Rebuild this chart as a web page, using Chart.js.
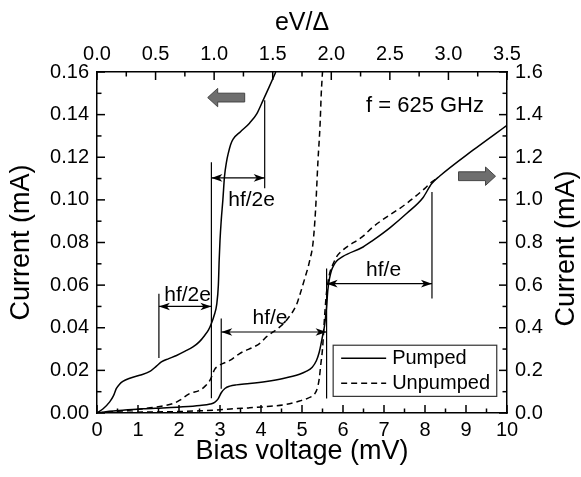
<!DOCTYPE html>
<html>
<head>
<meta charset="utf-8">
<script src="https://cdn.jsdelivr.net/npm/chart.js@4.4.1/dist/chart.umd.min.js"></script>
<style>
html, body { margin: 0; padding: 0; background: #fff; }
</style>
</head>
<body>
<canvas id="ivChart" width="581" height="477"></canvas>
<script>
// I-V curves, [bias mV, current mA]
const pumpedLeft = [
    [0, 0], [0.15, 0.002], [0.31, 0.0052], [0.4, 0.008], [0.47, 0.0114], [0.55, 0.0135],
    [0.63, 0.0148], [0.8, 0.0163], [1.04, 0.0177], [1.29, 0.0195], [1.45, 0.022], [1.57, 0.024],
    [1.75, 0.0255], [1.94, 0.027], [2.15, 0.029], [2.34, 0.031], [2.5, 0.0335], [2.63, 0.0365],
    [2.72, 0.039], [2.79, 0.042], [2.86, 0.046], [2.92, 0.051], [2.96, 0.06], [2.98, 0.0717],
    [3.0, 0.081], [3.03, 0.0904], [3.07, 0.1], [3.11, 0.111], [3.16, 0.118], [3.2, 0.1217],
    [3.26, 0.126], [3.32, 0.1285], [3.5, 0.132], [3.72, 0.136], [3.9, 0.1405], [4.05, 0.1467],
    [4.2, 0.153], [4.36, 0.16]
];
const unpumpedLeft = [
    [0, 0], [0.5, 0.0008], [1.13, 0.002], [1.45, 0.0028], [1.85, 0.0044], [2.02, 0.006],
    [2.26, 0.0091], [2.51, 0.0107], [2.63, 0.0125], [2.76, 0.0155], [2.87, 0.0205], [2.95, 0.022],
    [3.24, 0.0247], [3.48, 0.0279], [3.98, 0.0328], [4.13, 0.0357], [4.46, 0.0404], [4.62, 0.0435],
    [4.87, 0.051], [4.94, 0.055], [5.05, 0.062], [5.19, 0.0717], [5.27, 0.08], [5.33, 0.095],
    [5.39, 0.1185], [5.44, 0.135], [5.47, 0.15], [5.5, 0.16]
];
const pumpedRight = [
    [0, 0], [0.3, 0.008], [0.63, 0.013], [1.13, 0.02], [1.6, 0.024], [2.02, 0.028], [2.51, 0.035],
    [2.76, 0.042], [2.87, 0.05], [2.95, 0.065], [3.03, 0.095], [3.12, 0.115], [3.24, 0.126],
    [3.4, 0.132], [3.72, 0.138], [4.13, 0.148], [4.54, 0.162], [4.94, 0.182], [5.1, 0.195],
    [5.25, 0.215], [5.35, 0.245], [5.42, 0.285], [5.47, 0.33], [5.51, 0.37], [5.55, 0.41],
    [5.6, 0.5], [5.63, 0.576], [5.67, 0.63], [5.72, 0.67], [5.78, 0.695], [5.84, 0.712],
    [6.0, 0.735], [6.49, 0.779], [6.73, 0.81], [7.15, 0.87], [7.55, 0.936], [7.95, 1.01],
    [8.16, 1.076], [8.36, 1.112], [9.17, 1.233], [10, 1.35]
];
const unpumpedRight = [
    [0, 0], [0.63, 0.003], [1.45, 0.005], [2.02, 0.007], [2.5, 0.01], [3.0, 0.015], [3.32, 0.02],
    [3.7, 0.024], [4.13, 0.03], [4.6, 0.04], [4.94, 0.056], [5.15, 0.07], [5.31, 0.09], [5.38, 0.12],
    [5.42, 0.16], [5.46, 0.23], [5.5, 0.3], [5.55, 0.45], [5.59, 0.55], [5.63, 0.61], [5.68, 0.66],
    [5.76, 0.7], [5.84, 0.732], [6.0, 0.765], [6.49, 0.83], [6.73, 0.873], [7.55, 0.983],
    [7.99, 1.053], [8.16, 1.084], [8.25, 1.095]
];

// hf markers: vertical bars [x, yTop, yBottom, axis] and double arrows [x0, x1, y, axis]
const markerBars = [
    [2.79, 0.1177, 0.0069, 'y'], [4.09, 0.1467, 0.1054, 'y'], [1.51, 0.056, 0.0258, 'y'],
    [3.03, 0.0443, 0.0114, 'y'], [5.6, 0.0678, 0.0068, 'y'], [8.17, 1.037, 0.537, 'y2']
];
const markerArrows = [
    [2.79, 4.09, 0.1103, 'y'], [1.51, 2.79, 0.05, 'y'], [3.03, 5.6, 0.038, 'y'], [5.6, 8.17, 0.607, 'y2']
];
const markerLabels = [
    ['hf/2e', 3.77, 0.0998, 'y'], ['hf/2e', 2.21, 0.0555, 'y'], ['hf/e', 4.22, 0.0444, 'y'], ['hf/e', 6.99, 0.67, 'y2']
];

const xTicks = { min: 0, max: 10, step: 1, minor: 0.5 };
const topTicks = { min: 0, max: 3.5, step: 0.5, minor: 0.25 };
const leftTicks = { min: 0, max: 0.16, step: 0.02, minor: 0.01 };
const rightTicks = { min: 0, max: 1.6, step: 0.2, minor: 0.1 };

Chart.defaults.font.family = "'Liberation Sans', Arial, sans-serif";
Chart.defaults.color = '#000';

const toXY = arr => arr.map(p => ({ x: p[0], y: p[1] }));

function arrowHead(ctx, x, y, dir) {
    ctx.beginPath();
    ctx.moveTo(x, y);
    ctx.lineTo(x - dir * 11, y - 3.8);
    ctx.lineTo(x - dir * 8, y);
    ctx.lineTo(x - dir * 11, y + 3.8);
    ctx.closePath();
    ctx.fill();
}

function blockArrow(ctx, tx, ty, dir) {
    const L = 37, hl = 10, hh = 9.2, bh = 4.4;
    ctx.beginPath();
    ctx.moveTo(tx, ty);
    ctx.lineTo(tx - dir * hl, ty - hh);
    ctx.lineTo(tx - dir * hl, ty - bh);
    ctx.lineTo(tx - dir * L, ty - bh);
    ctx.lineTo(tx - dir * L, ty + bh);
    ctx.lineTo(tx - dir * hl, ty + bh);
    ctx.lineTo(tx - dir * hl, ty + hh);
    ctx.closePath();
    ctx.fillStyle = '#6e6e6e';
    ctx.fill();
    ctx.strokeStyle = '#444';
    ctx.lineWidth = 1;
    ctx.stroke();
}

const decorations = {
    id: 'decorations',
    afterDraw(chart) {
        const ctx = chart.ctx;
        const a = chart.chartArea;
        const s = chart.scales;
        ctx.save();

        // inward major / minor ticks
        ctx.strokeStyle = '#000';
        ctx.lineWidth = 1.5;
        const sets = [[s.x, xTicks, 'bottom'], [s.x2, topTicks, 'top'], [s.y, leftTicks, 'left'], [s.y2, rightTicks, 'right']];
        sets.forEach(([sc, t, side]) => {
            const n = Math.round((t.max - t.min) / t.minor);
            const every = Math.round(t.step / t.minor);
            for (let i = 0; i <= n; i++) {
                const p = sc.getPixelForValue(t.min + i * t.minor);
                const len = i % every === 0 ? 8 : 4.5;
                ctx.beginPath();
                if (side === 'bottom') { ctx.moveTo(p, a.bottom); ctx.lineTo(p, a.bottom - len); }
                if (side === 'top') { ctx.moveTo(p, a.top); ctx.lineTo(p, a.top + len); }
                if (side === 'left') { ctx.moveTo(a.left, p); ctx.lineTo(a.left + len, p); }
                if (side === 'right') { ctx.moveTo(a.right, p); ctx.lineTo(a.right - len, p); }
                ctx.stroke();
            }
        });

        // right axis title, reading bottom to top like the left one
        ctx.fillStyle = '#000';
        ctx.font = "27px 'Liberation Sans', Arial, sans-serif";
        ctx.textAlign = 'center';
        ctx.textBaseline = 'middle';
        ctx.save();
        ctx.translate(567, (a.top + a.bottom) / 2 + 6);
        ctx.rotate(-Math.PI / 2);
        ctx.fillText('Current (mA)', 0, 0);
        ctx.restore();

        // hf markers
        ctx.lineWidth = 1.2;
        markerBars.forEach(([x, y0, y1, ax]) => {
            const px = s.x.getPixelForValue(x);
            ctx.beginPath();
            ctx.moveTo(px, s[ax].getPixelForValue(y0));
            ctx.lineTo(px, s[ax].getPixelForValue(y1));
            ctx.stroke();
        });
        markerArrows.forEach(([x0, x1, y, ax]) => {
            const p0 = s.x.getPixelForValue(x0), p1 = s.x.getPixelForValue(x1);
            const py = s[ax].getPixelForValue(y);
            ctx.beginPath();
            ctx.moveTo(p0, py);
            ctx.lineTo(p1, py);
            ctx.stroke();
            arrowHead(ctx, p0, py, -1);
            arrowHead(ctx, p1, py, 1);
        });
        ctx.font = "21px 'Liberation Sans', Arial, sans-serif";
        markerLabels.forEach(([txt, x, y, ax]) => {
            ctx.fillText(txt, s.x.getPixelForValue(x), s[ax].getPixelForValue(y));
        });

        // axis pointers
        blockArrow(ctx, s.x.getPixelForValue(2.7), s.y.getPixelForValue(0.148), -1);
        blockArrow(ctx, s.x.getPixelForValue(9.72), s.y2.getPixelForValue(1.111), 1);

        // frequency note
        ctx.fillStyle = '#000';
        ctx.font = "22px 'Liberation Sans', Arial, sans-serif";
        ctx.fillText('f = 625 GHz', s.x.getPixelForValue(8.0), s.y2.getPixelForValue(1.44));

        // legend
        const lx0 = s.x.getPixelForValue(5.76), lx1 = s.x.getPixelForValue(9.75);
        const ly0 = s.y.getPixelForValue(0.0318), ly1 = s.y.getPixelForValue(0.0078);
        ctx.strokeStyle = '#333';
        ctx.lineWidth = 1.2;
        ctx.strokeRect(lx0, ly0, lx1 - lx0, ly1 - ly0);
        ctx.strokeStyle = '#000';
        ctx.lineWidth = 1.5;
        const rows = [['Pumped', []], ['Unpumped', [6, 4]]];
        rows.forEach(([name, dash], i) => {
            const ry = ly0 + 13 + i * 25;
            ctx.setLineDash(dash);
            ctx.beginPath();
            ctx.moveTo(lx0 + 8, ry);
            ctx.lineTo(lx0 + 53, ry);
            ctx.stroke();
            ctx.setLineDash([]);
            ctx.font = "20px 'Liberation Sans', Arial, sans-serif";
            ctx.textAlign = 'left';
            ctx.fillText(name, lx0 + 59, ry);
        });
        ctx.restore();
    }
};

const lineStyle = { borderColor: '#000', borderWidth: 1.5, pointRadius: 0, showLine: true, fill: false, cubicInterpolationMode: 'monotone' };

const axisBorder = { display: true, color: '#000', width: 1.5 };
const noGrid = { drawOnChartArea: false, drawTicks: false };

new Chart(document.getElementById('ivChart').getContext('2d'), {
    type: 'scatter',
    data: {
        datasets: [
            { ...lineStyle, label: 'Pumped', data: toXY(pumpedLeft), yAxisID: 'y' },
            { ...lineStyle, label: 'Pumped', data: toXY(pumpedRight), yAxisID: 'y2' },
            { ...lineStyle, label: 'Unpumped', data: toXY(unpumpedLeft), yAxisID: 'y', borderDash: [6, 4] },
            { ...lineStyle, label: 'Unpumped', data: toXY(unpumpedRight), yAxisID: 'y2', borderDash: [6, 4] }
        ]
    },
    options: {
        responsive: false,
        animation: false,
        layout: { padding: 0 },
        plugins: { legend: { display: false }, tooltip: { enabled: false } },
        scales: {
            x: {
                type: 'linear', position: 'bottom', min: xTicks.min, max: xTicks.max,
                ticks: { stepSize: xTicks.step, padding: 5, font: { size: 20 }, autoSkip: false, maxRotation: 0 },
                grid: noGrid, border: axisBorder,
                title: { display: true, text: 'Bias voltage (mV)', font: { size: 27 }, padding: { bottom: 9 } },
                afterFit: sc => { sc.height = 64; }
            },
            x2: {
                type: 'linear', position: 'top', min: topTicks.min, max: topTicks.max,
                ticks: { stepSize: topTicks.step, padding: 6, font: { size: 20 }, autoSkip: false, maxRotation: 0, callback: v => v.toFixed(1) },
                grid: noGrid, border: axisBorder,
                title: { display: true, text: 'eV/Δ', font: { size: 25 }, padding: { top: 8 } },
                afterFit: sc => { sc.height = 72; }
            },
            y: {
                type: 'linear', position: 'left', min: leftTicks.min, max: leftTicks.max,
                ticks: { stepSize: leftTicks.step, padding: 8, font: { size: 20 }, autoSkip: false, callback: v => v.toFixed(2) },
                grid: noGrid, border: axisBorder,
                title: { display: true, text: 'Current (mA)', font: { size: 27 }, padding: { top: 5 } },
                afterFit: sc => { sc.width = 97; }
            },
            y2: {
                type: 'linear', position: 'right', min: rightTicks.min, max: rightTicks.max,
                ticks: { stepSize: rightTicks.step, padding: 8, font: { size: 20 }, autoSkip: false, callback: v => v.toFixed(1) },
                grid: noGrid, border: axisBorder,
                title: { display: false },
                afterFit: sc => { sc.width = 74; }
            }
        }
    },
    plugins: [decorations]
});
</script>
</body>
</html>
